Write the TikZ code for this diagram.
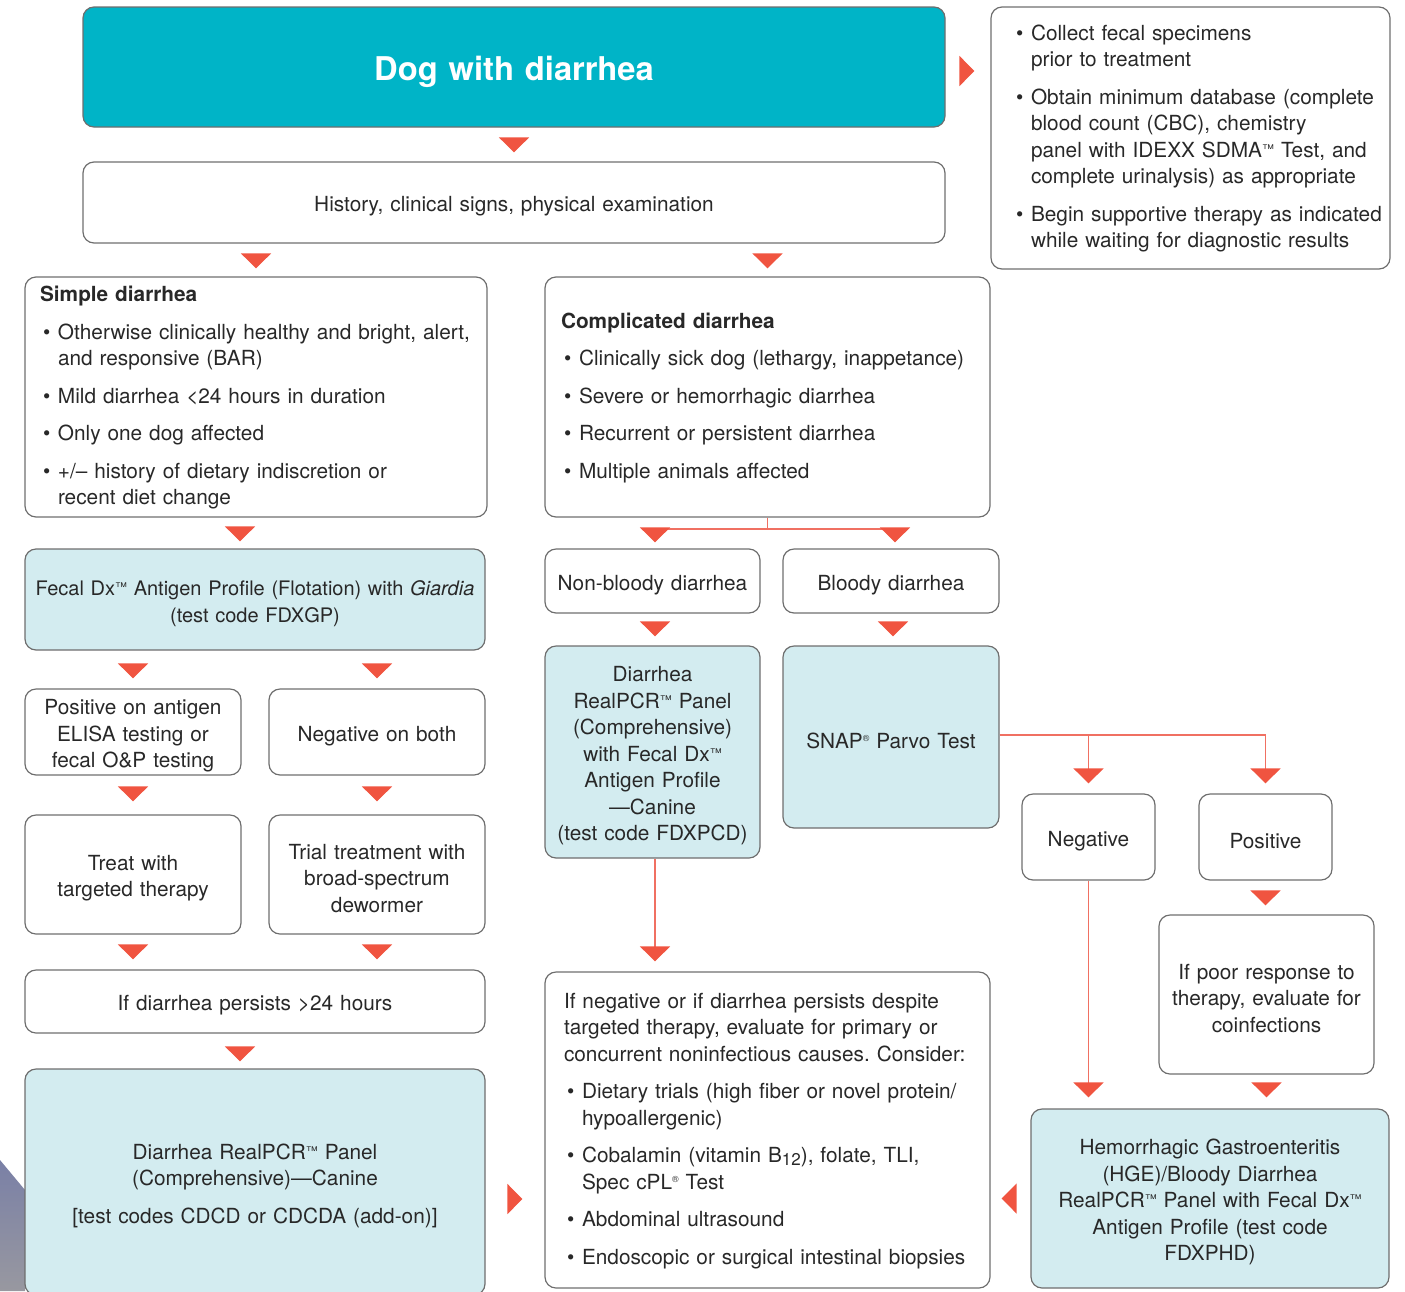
\documentclass[tikz,border=0pt]{standalone}
\usepackage{fontspec}
\setmainfont{TeX Gyre Heros}
\usetikzlibrary{arrows.meta,positioning,calc}
\definecolor{dogteal}{RGB}{0,180,199}
\definecolor{testfill}{RGB}{211,236,240}
\definecolor{boxline}{RGB}{110,110,110}
\definecolor{tipred}{RGB}{240,84,64}
\definecolor{linered}{RGB}{240,112,98}
\definecolor{inkgray}{RGB}{40,40,40}
\newcommand\firstdot[1]{\hangindent=18pt\hangafter=1\noindent\hspace*{3pt}\makebox[15pt][l]{\textbullet}#1}
\newcommand\dotitem[1]{\par\firstdot{#1}}
\newcommand\listend{\par\kern6pt}
\newcommand\tmark{\raisebox{4pt}{\fontsize{12}{12}\selectfont ™}}
\newcommand\regmark{\raisebox{7pt}{\fontsize{9}{9}\selectfont ®}}
\frenchspacing

\begin{document}
\begin{tikzpicture}[x=1pt, y=-1pt,
  font=\fontsize{20.8}{26.5}\selectfont, text=inkgray,
  box/.style={draw=boxline, line width=1.2pt, rounded corners=11pt, align=center, inner sep=0pt,
    execute at begin node={\rule{0pt}{23pt}}},
  testbox/.style={box, fill=testfill},
  listbox/.style={box, align=left, execute at begin node={\rule{0pt}{18pt}}},
  wh/.style 2 args={minimum width=#1pt, minimum height=#2pt, text width=#1pt-12pt},
  flow/.style={draw=linered, line width=1.3pt, -{Triangle[width=30pt,length=15pt,color=tipred]}}
]
\clip (0,0) rectangle (1405,1291);
\shade[top color={rgb,255:red,122;green,128;blue,166}, bottom color={rgb,255:red,152;green,152;blue,160}] (0,1160) -- (25,1190) -- (25,1291) -- (0,1291) -- cycle;

% top row
\node[box, wh={862}{120}, fill=dogteal, text=white, font=\fontsize{32.7}{38}\selectfont\bfseries,
  execute at begin node={\rule{0pt}{34pt}}] (dog) at (514,67) {Dog with diarrhea};
\node[listbox, wh={399}{262}, text width=395pt] (notes) at (1190.5,138) {\setlength{\parskip}{11pt}\setlength{\leftskip}{20pt}%
\firstdot{Collect fecal specimens\newline prior to treatment}
\dotitem{Obtain minimum database (complete\newline blood count (CBC), chemistry\newline panel with IDEXX SDMA\tmark\ Test, and\newline complete urinalysis) as appropriate}
\dotitem{Begin supportive therapy as indicated\newline while waiting for diagnostic results}\listend};
\node[box, wh={862}{81}] (hist) at (514,202.5) {History, clinical signs, physical examination};

% simple / complicated
\node[listbox, wh={462}{240}] (simple) at (256,397) {\setlength{\parskip}{11pt}\setlength{\leftskip}{9pt}%
\textbf{Simple diarrhea}
\dotitem{Otherwise clinically healthy and bright, alert,\newline and responsive (BAR)}
\dotitem{Mild diarrhea <24 hours in duration}
\dotitem{Only one dog affected}
\dotitem{+/– history of dietary indiscretion or\newline recent diet change}\listend};
\node[listbox, wh={445}{240}] (compl) at (767.5,397) {\setlength{\parskip}{11pt}\setlength{\leftskip}{10pt}%
\textbf{Complicated diarrhea}
\dotitem{Clinically sick dog (lethargy, inappetance)}
\dotitem{Severe or hemorrhagic diarrhea}
\dotitem{Recurrent or persistent diarrhea}
\dotitem{Multiple animals affected}\listend};

% left branch
\node[testbox, wh={460}{101}, text width=458pt, font=\fontsize{20}{26.5}\selectfont] (fecal) at (255,599.5) {Fecal Dx\tmark\ Antigen Profile (Flotation) with \textit{Giardia}\\(test code FDXGP)};
\node[box, wh={216}{86}] (pos) at (133,732) {Positive on antigen\\ELISA testing or\\fecal O\&P testing};
\node[box, wh={216}{86}] (neg) at (377,732) {Negative on both};
\node[box, wh={216}{119}] (treat) at (133,874.5) {Treat with\\targeted therapy};
\node[box, wh={216}{119}] (trial) at (377,874.5) {Trial treatment with\\broad-spectrum\\dewormer};
\node[box, wh={460}{63}] (persist) at (255,1001.5) {If diarrhea persists >24 hours};
\node[testbox, wh={460}{226}] (pcr2) at (255,1182) {Diarrhea RealPCR\tmark\ Panel\\(Comprehensive)—Canine\\[11pt]{[test codes CDCD or CDCDA (add-on)]}};

% middle branch
\node[box, wh={215}{64}] (nonb) at (652.5,581) {Non-bloody diarrhea};
\node[box, wh={216}{64}] (bloody) at (891,581) {Bloody diarrhea};
\node[testbox, wh={215}{212}] (pcr1) at (652.5,752) {Diarrhea\\RealPCR\tmark\ Panel\\(Comprehensive)\\with Fecal Dx\tmark\\Antigen Profile\\—Canine\\(test code FDXPCD)};
\node[testbox, wh={216}{182}] (snap) at (891,737) {SNAP\regmark\ Parvo Test};
\node[listbox, wh={445}{316}] (consider) at (767.5,1130) {\setlength{\parskip}{11pt}\setlength{\leftskip}{13pt}%
If negative or if diarrhea persists despite\newline targeted therapy, evaluate for primary or\newline concurrent noninfectious causes. Consider:
\dotitem{Dietary trials (high fiber or novel protein/\newline hypoallergenic)}
\dotitem{Cobalamin (vitamin B\raisebox{-3pt}{\fontsize{17}{17}\selectfont 12}), folate, TLI,\newline Spec cPL\regmark\ Test}
\dotitem{Abdominal ultrasound}
\dotitem{Endoscopic or surgical intestinal biopsies}\listend};

% right branch
\node[box, wh={133}{86}] (negbox) at (1088.5,837) {Negative};
\node[box, wh={133}{86}] (posbox) at (1265.5,837) {Positive};
\node[box, wh={215}{159}] (poor) at (1266.5,994.5) {If poor response to\\therapy, evaluate for\\coinfections};
\node[testbox, wh={358}{179}] (hge) at (1210,1198.5) {Hemorrhagic Gastroenteritis\\(HGE)/Bloody Diarrhea\\RealPCR\tmark\ Panel with Fecal Dx\tmark\\Antigen Profile (test code\\FDXPHD)};

% arrows
\draw[flow, shorten <=12pt, shorten >=9pt] (dog.south) -- (hist.north);
\draw[flow, shorten <=15pt, shorten >=16pt] ([yshift=-4pt]dog.east) -- ([yshift=-4pt]dog.east -| notes.west);
\draw[flow, shorten <=12pt, shorten >=8pt] (simple.north |- hist.south) -- (simple.north);
\draw[flow, shorten <=12pt, shorten >=8pt] (compl.north |- hist.south) -- (compl.north);
\draw[flow, shorten <=11pt, shorten >=7pt] ([xshift=-16pt]simple.south) -- ([xshift=-15pt]fecal.north);
\draw[flow, shorten <=14pt, shorten >=10pt] (fecal.south -| pos.north) -- (pos.north);
\draw[flow, shorten <=14pt, shorten >=10pt] (fecal.south -| neg.north) -- (neg.north);
\draw[flow, shorten <=12pt, shorten >=13pt] (pos.south) -- (treat.north);
\draw[flow, shorten <=12pt, shorten >=13pt] (neg.south) -- (trial.north);
\draw[flow, shorten <=11pt, shorten >=10pt] (treat.south) -- (treat.south |- persist.north);
\draw[flow, shorten <=11pt, shorten >=10pt] (trial.south) -- (trial.south |- persist.north);
\draw[flow, shorten <=15pt, shorten >=7pt] ([xshift=-15pt]persist.south) -- ([xshift=-15pt]pcr2.north);
\draw[flow, shorten <=23pt, shorten >=22pt] ([yshift=-17pt]pcr2.east) -- ([yshift=-17pt]pcr2.east -| consider.west);

\coordinate (split) at (767.5,529);
\draw[flow, shorten >=6pt] (compl.south) -- (split) -| ([xshift=2.5pt]nonb.north);
\draw[flow, shorten >=6pt] (compl.south) -- (split) -| ([xshift=4pt]bloody.north);
\draw[flow, shorten <=10pt, shorten >=9pt] ([xshift=2.5pt]nonb.south) -- ([xshift=2.5pt]pcr1.north);
\draw[flow, shorten <=10pt, shorten >=9pt] ([xshift=2pt]bloody.south) -- ([xshift=2pt]snap.north);
\draw[flow, shorten >=10pt] ([xshift=2.5pt]pcr1.south) -- ([xshift=2.5pt]pcr1.south |- consider.north);

\draw[flow, shorten >=10pt] ([yshift=2pt]snap.east) -| (negbox.north);
\draw[flow, shorten >=10pt] ([yshift=2pt]snap.east) -| (posbox.north);
\draw[flow, shorten >=11pt] (negbox.south) -- (negbox.south |- hge.north);
\draw[flow, shorten <=12pt, shorten >=9pt] (posbox.south) -- (posbox.south |- poor.north);
\draw[flow, shorten <=9pt, shorten >=11pt] (poor.south) -- (poor.south |- hge.north);
\draw[flow, shorten <=16pt, shorten >=11pt] (hge.west) -- (hge.west -| consider.east);
\end{tikzpicture}
\end{document}
